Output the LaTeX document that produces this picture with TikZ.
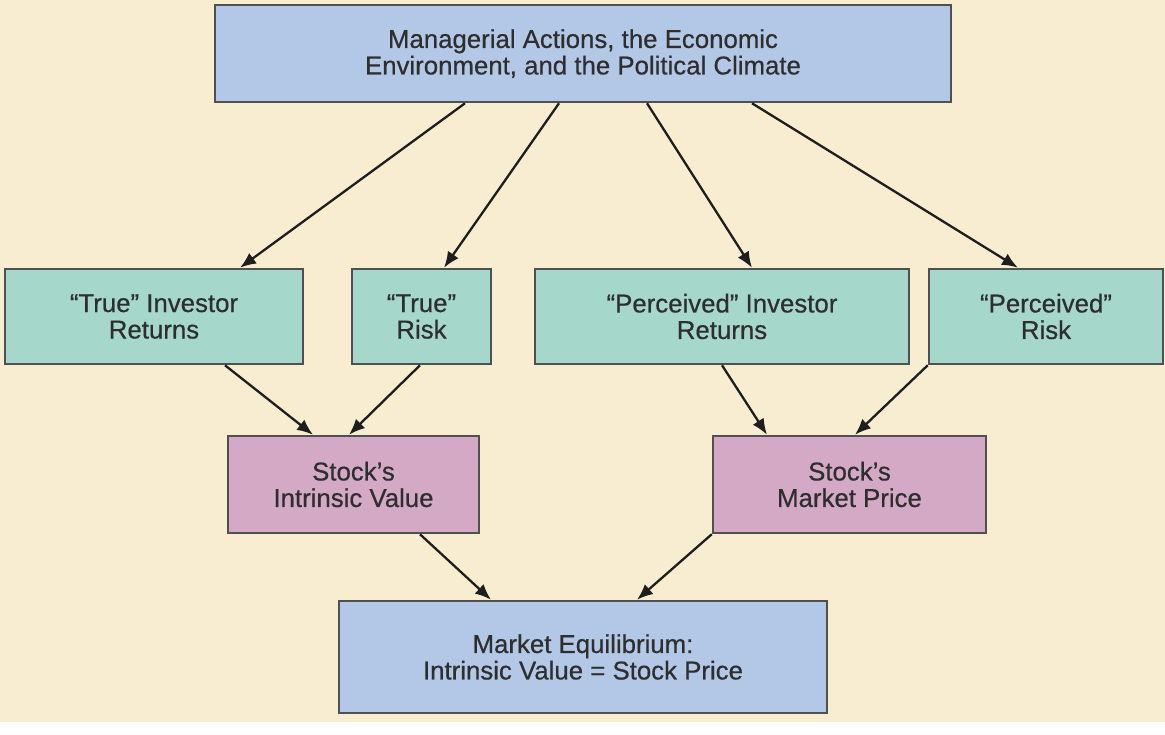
\documentclass[tikz,border=0pt]{standalone}
\usepackage{fontspec}
\setmainfont{Liberation Sans}
\newfontfamily\diagfont[FakeBold=0.5]{Liberation Sans}
\usetikzlibrary{arrows.meta}
\definecolor{bgc}{HTML}{F8EDD1}
\definecolor{bluec}{HTML}{B3C7E6}
\definecolor{tealc}{HTML}{A5D8CB}
\definecolor{pinkc}{HTML}{D4A9C6}
\definecolor{edgec}{HTML}{505050}
\definecolor{txtc}{HTML}{2E2E2E}
\definecolor{arrc}{HTML}{1E1E1E}
\tikzset{
  box/.style={draw=edgec, line width=2.5pt, rectangle, inner sep=0pt, align=center,
    text=txtc, font=\diagfont\fontsize{25.8}{26.5}\selectfont},
  bluebox/.style={box, fill=bluec},
  tealbox/.style={box, fill=tealc, minimum height=95pt},
  pinkbox/.style={box, fill=pinkc, minimum height=97pt},
  arr/.style={draw=arrc, line width=2.3pt, -{Latex[length=16pt,width=13pt]}},
}
\begin{document}
\begin{tikzpicture}[x=1pt,y=-1pt]
\useasboundingbox (0,0) rectangle (1165,734);
\fill[white] (0,0) rectangle (1165,734);
\fill[bgc] (0,0) rectangle (1165,722);
\node[bluebox, minimum width=736pt, minimum height=97pt] (top) at (583,53.5)
  {Managerial Actions, the Economic\\Environment, and the Political Climate};
\node[tealbox, minimum width=298pt] (tr) at (154,316.5) {“True” Investor\\Returns};
\node[tealbox, minimum width=139pt] (trisk) at (421.5,316.5) {“True”\\Risk};
\node[tealbox, minimum width=374pt] (pr) at (722,316.5) {“Perceived” Investor\\Returns};
\node[tealbox, minimum width=234pt] (prisk) at (1046,316.5) {“Perceived”\\Risk};
\node[pinkbox, minimum width=251pt] (iv) at (353.5,484.5) {Stock’s\\Intrinsic Value};
\node[pinkbox, minimum width=273pt] (mp) at (849.5,484.5) {Stock’s\\Market Price};
\node[bluebox, minimum width=488pt, minimum height=112pt] (eq) at (583,657)
  {Market Equilibrium:\\Intrinsic Value = Stock Price};
\draw[arr] (top.south -| 465,0) -- (tr.north -| 240,0);
\draw[arr] (top.south -| 559,0) -- (trisk.north -| 444,0);
\draw[arr] (top.south -| 647,0) -- (pr.north -| 752,0);
\draw[arr] (top.south -| 752,0) -- (prisk.north -| 1018,0);
\draw[arr] (tr.south -| 225,0) -- (iv.north -| 313,0);
\draw[arr] (trisk.south -| 420,0) -- (iv.north -| 349,0);
\draw[arr] (pr.south -| 722,0) -- (mp.north -| 767,0);
\draw[arr] (prisk.south west) -- (mp.north -| 855,0);
\draw[arr] (iv.south -| 420,0) -- (eq.north -| 491,0);
\draw[arr] (mp.south west) -- (eq.north -| 637,0);
\end{tikzpicture}
\end{document}
